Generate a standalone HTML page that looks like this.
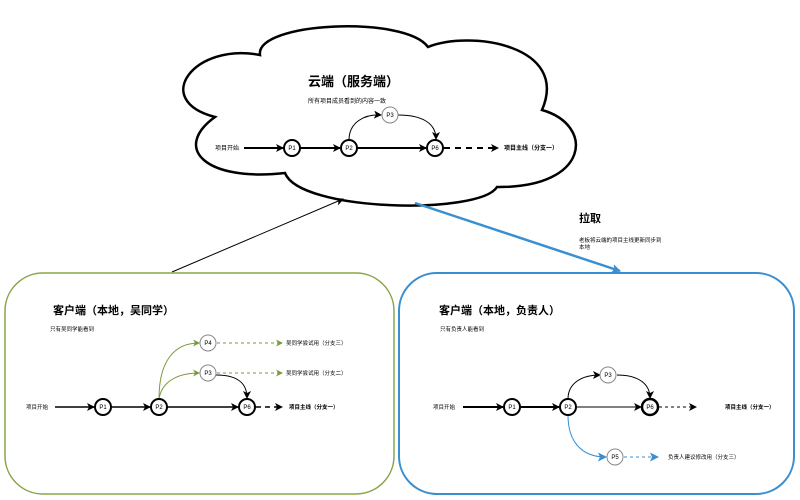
<!DOCTYPE html>
<html><head><meta charset="utf-8"><style>
body{margin:0;background:#fff;}
svg{display:block;font-family:"Liberation Sans","Noto Sans CJK SC",sans-serif;}
</style></head><body>
<svg width="800" height="500" viewBox="0 0 800 500" xmlns="http://www.w3.org/2000/svg">
<defs>
<marker id="ab" markerWidth="8" markerHeight="8" refX="7" refY="4" orient="auto" markerUnits="userSpaceOnUse"><path d="M0,0 L8,4 L0,8 L2,4z" fill="#000"/></marker>
<marker id="ag" markerWidth="7" markerHeight="7" refX="6" refY="3.5" orient="auto" markerUnits="userSpaceOnUse"><path d="M0,0 L7,3.5 L0,7 L2,3.5z" fill="#7a9a3a"/></marker>
<marker id="abl" markerWidth="9" markerHeight="9" refX="8" refY="4.5" orient="auto" markerUnits="userSpaceOnUse"><path d="M0,0 L9,4.5 L0,9 L2,4.5z" fill="#3a8fd0"/></marker>
</defs>
<!-- cloud -->
<path d="M260,55 C255,22 405,15 428,47 C470,30 570,45 542,110 C595,125 590,188 497,187 C480,215 300,212 285,173 C205,182 172,148 215,117 C150,100 195,42 260,55 Z" fill="#fff" stroke="#000" stroke-width="2.5"/>
<text x="308" y="86" font-size="13" font-weight="bold">云端（服务端）</text>
<text x="308" y="103" font-size="6">所有项目成员看到的内容一致</text>
<text x="215" y="150" font-size="6">项目开始</text>
<g stroke="#000" fill="none">
<line x1="244" y1="148" x2="283" y2="148" stroke-width="2" marker-end="url(#ab)"/>
<line x1="300" y1="148" x2="340" y2="148" stroke-width="2" marker-end="url(#ab)"/>
<line x1="357" y1="148" x2="426" y2="148" stroke-width="2" marker-end="url(#ab)"/>
<path d="M349,140 C349,122 365,114 381,115" stroke-width="1" marker-end="url(#ab)"/>
<path d="M398,115 C420,115 436,122 436,139" stroke-width="1" marker-end="url(#ab)"/>
<line x1="444" y1="148" x2="498" y2="148" stroke-width="2" stroke-dasharray="6,5" marker-end="url(#ab)"/>
</g>
<g font-size="6" text-anchor="middle">
<circle cx="292" cy="148" r="8" fill="#fff" stroke="#000" stroke-width="2"/><text x="292" y="150">P1</text>
<circle cx="349" cy="148" r="8" fill="#fff" stroke="#000" stroke-width="2"/><text x="349" y="150">P2</text>
<circle cx="435" cy="148" r="8" fill="#fff" stroke="#000" stroke-width="2"/><text x="435" y="150">P6</text>
<circle cx="390" cy="115" r="8" fill="#fff" stroke="#888" stroke-width="1"/><text x="390" y="117">P3</text>
</g>
<text x="504" y="150" font-size="6" font-weight="bold">项目主线（分支一）</text>

<!-- connectors -->
<line x1="172" y1="272" x2="343" y2="199" stroke="#000" stroke-width="1" marker-end="url(#ab)"/>
<line x1="415" y1="203" x2="620" y2="271" stroke="#3a8fd0" stroke-width="2.5" marker-end="url(#abl)"/>
<text x="579" y="222" font-size="11" font-weight="bold">拉取</text>
<text x="579" y="242" font-size="5.5">老板将云端的项目主线更新同步到</text>
<text x="579" y="249" font-size="5.5">本地</text>

<!-- left box -->
<rect x="5" y="273" width="389" height="221" rx="38" fill="#fff" stroke="#8aa54a" stroke-width="1.5"/>
<text x="53" y="314" font-size="11" font-weight="bold">客户端（本地，吴同学）</text>
<text x="50" y="331" font-size="5.5">只有吴同学能看到</text>
<text x="26" y="409" font-size="5.5">项目开始</text>
<g fill="none">
<line x1="55" y1="407" x2="94" y2="407" stroke="#000" stroke-width="1.5" marker-end="url(#ab)"/>
<line x1="111" y1="407" x2="150" y2="407" stroke="#000" stroke-width="1.5" marker-end="url(#ab)"/>
<line x1="167" y1="407" x2="238" y2="407" stroke="#000" stroke-width="1.5" marker-end="url(#ab)"/>
<path d="M159,399 C159,360 175,343 199,343" stroke="#7a9a3a" stroke-width="1" marker-end="url(#ag)"/>
<path d="M159,399 C162,380 180,373 199,373" stroke="#7a9a3a" stroke-width="1" marker-end="url(#ag)"/>
<path d="M216,375 C240,375 247,385 247,398" stroke="#000" stroke-width="1" marker-end="url(#ab)"/>
<line x1="217" y1="343" x2="282" y2="343" stroke="#7a9a3a" stroke-dasharray="3,3" marker-end="url(#ag)"/>
<line x1="217" y1="373" x2="282" y2="373" stroke="#7a9a3a" stroke-dasharray="3,3" marker-end="url(#ag)"/>
<line x1="256" y1="407" x2="282" y2="407" stroke="#000" stroke-width="1.5" stroke-dasharray="5,4" marker-end="url(#ab)"/>
</g>
<g font-size="6" text-anchor="middle">
<circle cx="103" cy="407" r="8" fill="#fff" stroke="#000" stroke-width="2"/><text x="103" y="409">P1</text>
<circle cx="159" cy="407" r="8" fill="#fff" stroke="#000" stroke-width="2"/><text x="159" y="409">P2</text>
<circle cx="247" cy="407" r="8" fill="#fff" stroke="#000" stroke-width="2"/><text x="247" y="409">P6</text>
<circle cx="208" cy="343" r="8" fill="#fff" stroke="#888"/><text x="208" y="345">P4</text>
<circle cx="208" cy="373" r="8" fill="#fff" stroke="#888"/><text x="208" y="375">P3</text>
</g>
<text x="286" y="345" font-size="5.5">吴同学尝试用（分支三）</text>
<text x="286" y="375" font-size="5.5">吴同学尝试用（分支二）</text>
<text x="289" y="409" font-size="5.5" font-weight="bold">项目主线（分支一）</text>

<!-- right box -->
<rect x="399" y="273" width="395" height="221" rx="38" fill="#fff" stroke="#3a8fd0" stroke-width="2"/>
<text x="439" y="314" font-size="11" font-weight="bold">客户端（本地，负责人）</text>
<text x="440" y="331" font-size="5.5">只有负责人能看到</text>
<text x="433" y="409" font-size="5.5">项目开始</text>
<g fill="none">
<line x1="463" y1="407" x2="503" y2="407" stroke="#000" stroke-width="2" marker-end="url(#ab)"/>
<line x1="520" y1="407" x2="559" y2="407" stroke="#000" stroke-width="2" marker-end="url(#ab)"/>
<line x1="576" y1="407" x2="641" y2="407" stroke="#000" stroke-width="1" marker-end="url(#ab)"/>
<path d="M568,399 C568,383 582,375 600,375" stroke="#000" stroke-width="1" marker-end="url(#ab)"/>
<path d="M617,375 C640,375 650,385 650,398" stroke="#000" stroke-width="1" marker-end="url(#ab)"/>
<path d="M568,415 C568,440 580,457 606,457" stroke="#3a8fd0" stroke-width="1" marker-end="url(#abl)"/>
<line x1="624" y1="457" x2="658" y2="457" stroke="#3a8fd0" stroke-dasharray="3,3" marker-end="url(#abl)"/>
<line x1="659" y1="407" x2="696" y2="407" stroke="#000" stroke-dasharray="3,3" marker-end="url(#ab)"/>
</g>
<g font-size="6" text-anchor="middle">
<circle cx="512" cy="407" r="8" fill="#fff" stroke="#000" stroke-width="2"/><text x="512" y="409">P1</text>
<circle cx="568" cy="407" r="8" fill="#fff" stroke="#000" stroke-width="2"/><text x="568" y="409">P2</text>
<circle cx="650" cy="407" r="8" fill="#fff" stroke="#000" stroke-width="2.5"/><text x="650" y="409">P6</text>
<circle cx="608" cy="375" r="8" fill="#fff" stroke="#888"/><text x="608" y="377">P3</text>
<circle cx="615" cy="457" r="8" fill="#fff" stroke="#888"/><text x="615" y="459">P5</text>
</g>
<text x="725" y="409" font-size="5.5" font-weight="bold">项目主线（分支一）</text>
<text x="668" y="459" font-size="5.5">负责人建议修改用（分支三）</text>
</svg>
</body></html>
